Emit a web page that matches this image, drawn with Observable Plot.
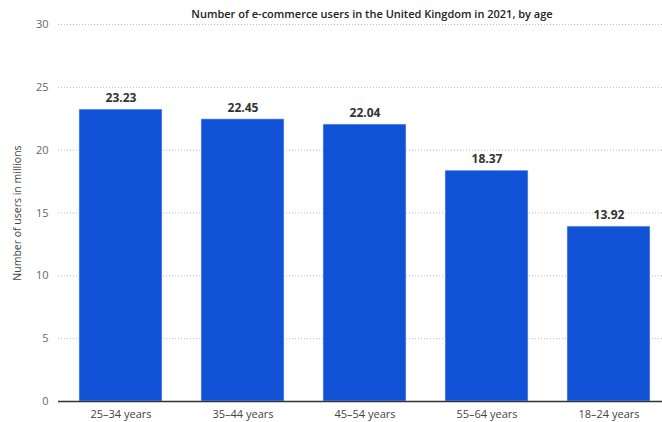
<!DOCTYPE html>
<html>
<head>
<meta charset="utf-8">
<script src="https://cdn.jsdelivr.net/npm/d3@7"></script>
<script src="https://cdn.jsdelivr.net/npm/@observablehq/plot@0.6"></script>
<style>
  html, body { margin: 0; padding: 0; background: #fff; }
  #wrap { position: relative; width: 662px; height: 422px; overflow: hidden; font-family: "Open Sans", sans-serif; }
  #title { position: absolute; top: 6px; left: 372px; transform: translateX(-50%); white-space: nowrap; font-size: 11px; font-weight: 600; color: #222; }
  #ylabel { position: absolute; left: 17px; top: 213px; transform: translate(-50%, -50%) rotate(-90deg); white-space: nowrap; font-size: 10.5px; color: #444; }
</style>
</head>
<body>
<div id="wrap">
  <div id="chart"></div>
  <div id="title">Number of e-commerce users in the United Kingdom in 2021, by age</div>
  <div id="ylabel">Number of users in millions</div>
</div>
<script>
const categories = ["25–34 years", "35–44 years", "45–54 years", "55–64 years", "18–24 years"];
const values = [23.23, 22.45, 22.04, 18.37, 13.92];
const yTicks = [0, 5, 10, 15, 20, 25, 30];

const data = categories.map((c, i) => ({category: c, value: values[i]}));

const chart = Plot.plot({
  width: 662,
  height: 422,
  marginLeft: 58,
  marginRight: -10,
  marginTop: 24,
  marginBottom: 21,
  style: {fontFamily: "Open Sans, sans-serif", background: "#fff", overflow: "visible"},
  x: {domain: categories, paddingInner: 0.316, paddingOuter: 0.158, label: null, tickSize: 0, tickPadding: 8},
  y: {domain: [0, 30], ticks: yTicks, label: null},
  marks: [
    Plot.gridY(yTicks, {stroke: "#bbb", strokeOpacity: 1, strokeDasharray: "1,2", strokeWidth: 1}),
    Plot.barY(data, {x: "category", y: "value", fill: "#1151d6", stroke: "#cfe0ff", strokeWidth: 0.6}),
    Plot.ruleY([0], {stroke: "#333", strokeWidth: 1.5}),
    Plot.axisY(yTicks, {tickSize: 0, tickPadding: 0, dx: -10, fill: "#666", fontSize: 11, anchor: "left"}),
    Plot.axisX({tickSize: 0, tickPadding: 9, fill: "#444", fontSize: 11, label: null}),
    Plot.text(data, {x: "category", y: "value", text: d => d.value.toFixed(2), dy: -11, fontWeight: "bold", fontSize: 12, fill: "#333"})
  ]
});
document.getElementById("chart").appendChild(chart);
</script>
</body>
</html>
